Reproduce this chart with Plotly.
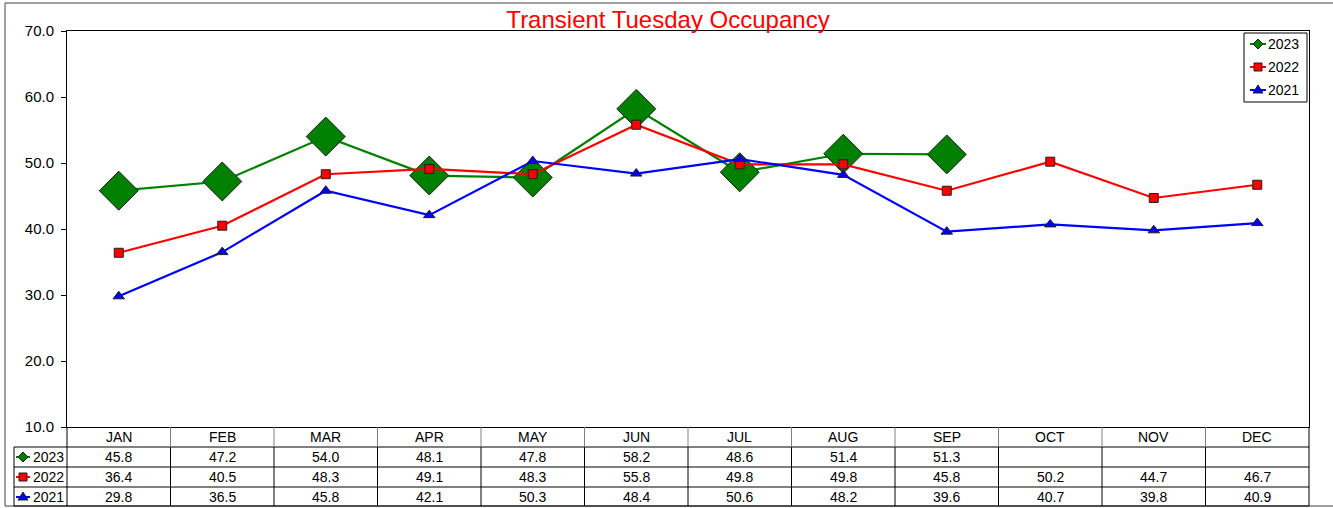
import plotly.graph_objects as go

# ---- data ----
months = ["JAN", "FEB", "MAR", "APR", "MAY", "JUN", "JUL", "AUG", "SEP", "OCT", "NOV", "DEC"]
occ_2023 = [45.8, 47.2, 54.0, 48.1, 47.8, 58.2, 48.6, 51.4, 51.3, None, None, None]
occ_2022 = [36.4, 40.5, 48.3, 49.1, 48.3, 55.8, 49.8, 49.8, 45.8, 50.2, 44.7, 46.7]
occ_2021 = [29.8, 36.5, 45.8, 42.1, 50.3, 48.4, 50.6, 48.2, 39.6, 40.7, 39.8, 40.9]
y_ticks = [10, 20, 30, 40, 50, 60, 70]

W, H = 1333, 508
L, R, T, B = 67, 1309, 31, 427  # plot area in pixels
FONT = "Liberation Sans, Arial, sans-serif"


def px(x):
    return (x - L) / (R - L)


def py(y):
    return (B - y) / (B - T)


series = [
    dict(name="2023", vals=occ_2023, color="#008000", symbol="diamond", size=30),
    dict(name="2022", vals=occ_2022, color="#FF0000", symbol="square", size=9),
    dict(name="2021", vals=occ_2021, color="#0000FF", symbol="triangle-up", size=10),
]

fig = go.Figure()
xs = list(range(len(months)))
for s in series:
    fig.add_trace(go.Scatter(
        x=xs, y=s["vals"], name=s["name"], mode="lines+markers",
        line=dict(color=s["color"], width=2.2),
        marker=dict(symbol=s["symbol"], size=s["size"], color=s["color"],
                    line=dict(color="#202020", width=1)),
        connectgaps=False, showlegend=False, hoverinfo="x+y",
    ))

shapes = []
annotations = []


def text(x, y, s, xref="paper", xanchor="center", size=14, color="black"):
    annotations.append(dict(xref=xref, yref="paper", x=x, y=y, text=s, showarrow=False,
                            xanchor=xanchor, yanchor="middle",
                            font=dict(family=FONT, size=size, color=color)))


def line(x0, y0, x1, y1, color="black", width=1, xref="paper"):
    shapes.append(dict(type="line", xref=xref, yref="paper", x0=x0, y0=y0, x1=x1, y1=y1,
                       line=dict(color=color, width=width), layer="above"))


def legend_key(cx, cy, s, half=8):
    # short line with a small marker, in pixel space
    line(px(cx - half), py(cy), px(cx + half), py(cy), color=s["color"], width=2)
    r = 4
    if s["symbol"] == "diamond":
        path = (f"M {px(cx)} {py(cy - r - 1)} L {px(cx + r + 1)} {py(cy)} "
                f"L {px(cx)} {py(cy + r + 1)} L {px(cx - r - 1)} {py(cy)} Z")
    elif s["symbol"] == "square":
        path = (f"M {px(cx - r)} {py(cy - r)} L {px(cx + r)} {py(cy - r)} "
                f"L {px(cx + r)} {py(cy + r)} L {px(cx - r)} {py(cy + r)} Z")
    else:
        path = (f"M {px(cx)} {py(cy - r - 1)} L {px(cx + r + 1)} {py(cy + r - 1)} "
                f"L {px(cx - r - 1)} {py(cy + r - 1)} Z")
    shapes.append(dict(type="path", xref="paper", yref="paper", path=path,
                       fillcolor=s["color"], line=dict(color="#202020", width=1), layer="above"))


# outer chart frame
shapes.append(dict(type="rect", xref="paper", yref="paper",
                   x0=px(5), y0=py(506), x1=px(1345), y1=py(3),
                   line=dict(color="#404040", width=1), layer="below"))

# ---- data table under the plot ----
row_lines = [447, 467, 487, 506]
row_centers = [457, 477, 497]
for yy in row_lines:
    line(px(14), py(yy), 1, py(yy))
line(px(14), py(447), px(14), py(506))
line(0, py(427), 0, py(506))
line(1, py(427), 1, py(506))
for k in range(1, len(months)):
    shapes.append(dict(type="line", xref="x", yref="paper", x0=k - 0.5, x1=k - 0.5,
                       y0=py(427), y1=py(447), line=dict(color="#808080", width=1)))
    shapes.append(dict(type="line", xref="x", yref="paper", x0=k - 0.5, x1=k - 0.5,
                       y0=py(447), y1=py(506), line=dict(color="black", width=1)))

for k, m in enumerate(months):
    text(k, py(437), m, xref="x")

for s, cy in zip(series, row_centers):
    legend_key(23, cy, s, half=7)
    text(px(66), py(cy), s["name"], xanchor="right")
    for k, v in enumerate(s["vals"]):
        if v is None:
            continue
        text(k, py(cy), f"{v:.1f}", xref="x")

# ---- legend box (top right) ----
shapes.append(dict(type="rect", xref="paper", yref="paper",
                   x0=px(1244), y0=py(102), x1=px(1307), y1=py(33),
                   line=dict(color="black", width=1), fillcolor="white", layer="above"))
for s, cy in zip(series, [44, 67, 90]):
    legend_key(1258, cy, s, half=8)
    text(px(1266), py(cy), s["name"], xanchor="left")

fig.update_layout(
    width=W, height=H,
    margin=dict(l=L, r=W - R, t=T, b=H - B, pad=0),
    paper_bgcolor="white", plot_bgcolor="white",
    title=dict(text="Transient Tuesday Occupancy", x=668 / W, xanchor="center",
               y=1 - 20 / H, yanchor="middle", yref="container",
               font=dict(family=FONT, size=24, color="#FF0000")),
    xaxis=dict(range=[-0.5, len(months) - 0.5], showticklabels=False, ticks="",
               showgrid=False, zeroline=False, showline=True, linecolor="black",
               linewidth=1, mirror=True),
    yaxis=dict(range=[10, 70], tickvals=y_ticks, ticktext=[f"{v:.1f}" for v in y_ticks],
               ticks="outside", ticklen=5, tickcolor="black", showgrid=False, zeroline=False,
               showline=True, linecolor="black", linewidth=1, mirror=True,
               ticklabelstandoff=4,
               tickfont=dict(family=FONT, size=15, color="black")),
    shapes=shapes, annotations=annotations, showlegend=False,
)

fig.write_html("out.html")
